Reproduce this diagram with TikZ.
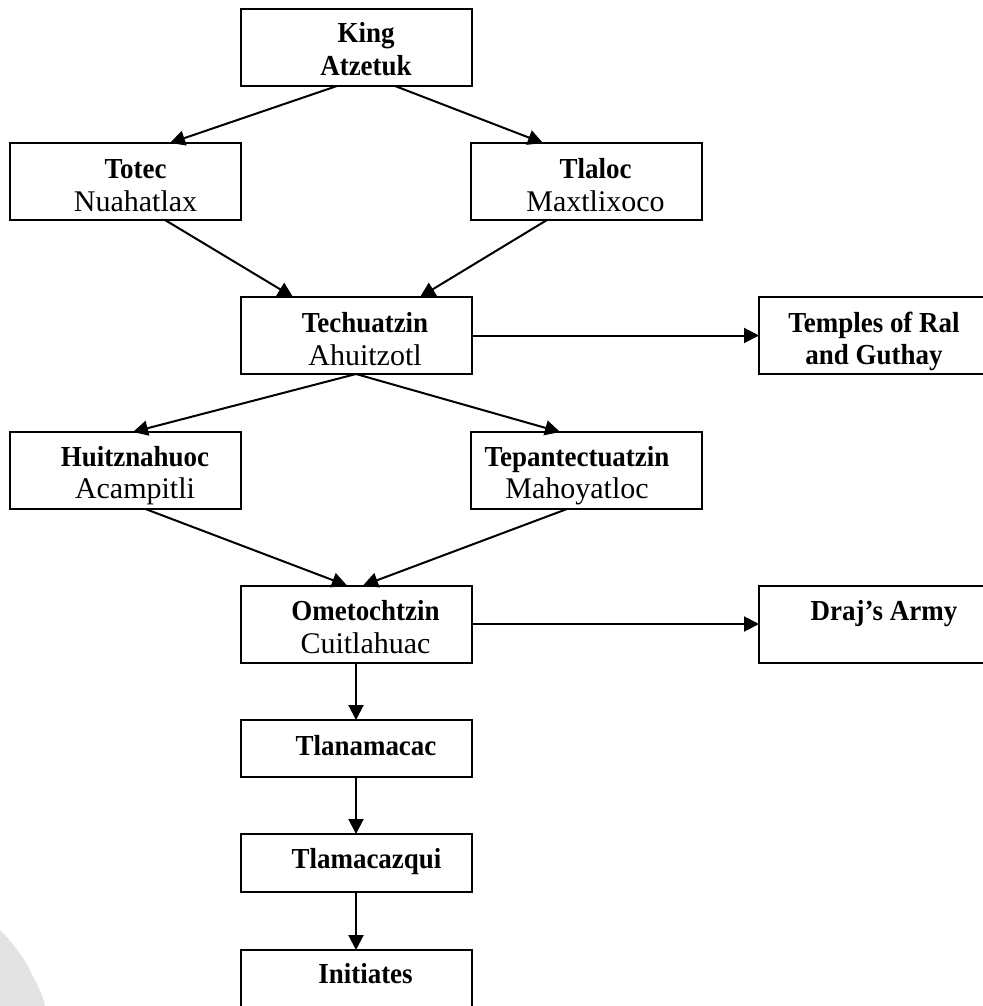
\documentclass[tikz,border=0pt]{standalone}
\usepackage{fontspec}
\setmainfont{Liberation Serif}
\newfontfamily\boldfam{Liberation Serif}[FakeStretch=0.93]
\usetikzlibrary{arrows.meta}
\begin{document}
\begin{tikzpicture}[x=1pt,y=-1pt,
  box/.style={draw, line width=2pt, minimum width=231pt, inner sep=0pt, outer sep=0pt},
  tallbox/.style={box, minimum height=77pt},
  lowbox/.style={box, minimum height=57pt},
  bt/.style={anchor=base, inner sep=0pt, font=\fontsize{29}{31}\boldfam\bfseries},
  rt/.style={anchor=base, inner sep=0pt, font=\fontsize{30}{33}\selectfont},
  conn/.style={line width=2pt, -{Triangle[length=15pt,width=15pt]}}]
\useasboundingbox (0,0) rectangle (982,1006);
\fill[black!11] (0,930) .. controls (15,945) and (25,960) .. (30,970) .. controls (34,980) and (42,990) .. (45,1006) -- (0,1006) -- cycle;

% boxes
\node[tallbox] (king) at (356,47.5) {};
\node[tallbox] (totec) at (125.5,181.5) {};
\node[tallbox] (tlaloc) at (586.5,181.5) {};
\node[tallbox] (tech) at (356,335.5) {};
\node[tallbox] (temples) at (874.5,335.5) {};
\node[tallbox] (huitz) at (125.5,470.5) {};
\node[tallbox] (tepan) at (586.5,470.5) {};
\node[tallbox] (omet) at (356,624) {};
\node[tallbox] (draj) at (874.5,624) {};
\node[lowbox] (tlan) at (356,748.5) {};
\node[lowbox, minimum height=58pt] (tlam) at (356,863) {};
\node[lowbox, minimum height=58pt] (init) at (356,979) {};

% texts
\node[bt] (kingA) at (366,43) {King};
\node[bt] (kingB) at (366,76) {Atzetuk};
\node[bt] (totecA) at (135.5,178) {Totec};
\node[rt] (totecB) at (135.5,211) {Nuahatlax};
\node[bt] (tlalocA) at (595.5,178) {Tlaloc};
\node[rt] (tlalocB) at (595.5,211) {Maxtlixoco};
\node[bt] (techA) at (365,332) {Techuatzin};
\node[rt] (techB) at (365,365) {Ahuitzotl};
\node[bt] (templesA) at (874,332) {Temples of Ral};
\node[bt] (templesB) at (874,364) {and Guthay};
\node[bt] (huitzA) at (135,466) {Huitznahuoc};
\node[rt] (huitzB) at (135,498) {Acampitli};
\node[bt] (tepanA) at (577,466) {Tepantectuatzin};
\node[rt] (tepanB) at (577,498) {Mahoyatloc};
\node[bt] (ometA) at (365.5,620) {Ometochtzin};
\node[rt] (ometB) at (365.5,653) {Cuitlahuac};
\node[bt] (drajA) at (884,620) {Draj’s Army};
\node[bt] (tlanA) at (366,755) {Tlanamacac};
\node[bt] (tlamA) at (366.5,868) {Tlamacazqui};
\node[bt] (initA) at (365.5,983) {Initiates};

% connectors
\draw[conn] ([xshift=-19pt]king.south) -- ([xshift=44.5pt]totec.north);
\draw[conn] ([xshift=39pt]king.south) -- ([xshift=-43.5pt]tlaloc.north);
\draw[conn] ([xshift=39.5pt]totec.south) -- ([xshift=-63pt]tech.north);
\draw[conn] ([xshift=-39.5pt]tlaloc.south) -- ([xshift=64pt]tech.north);
\draw[conn] (tech.east) -- (temples.west);
\draw[conn] (tech.south) -- ([xshift=7.5pt]huitz.north);
\draw[conn] (tech.south) -- ([xshift=-26.5pt]tepan.north);
\draw[conn] ([xshift=20pt]huitz.south) -- ([xshift=-9pt]omet.north);
\draw[conn] ([xshift=-19.5pt]tepan.south) -- ([xshift=7pt]omet.north);
\draw[conn] (omet.east) -- (draj.west);
\draw[conn] (omet.south) -- (tlan.north);
\draw[conn] (tlan.south) -- (tlam.north);
\draw[conn] (tlam.south) -- (init.north);
\end{tikzpicture}
\end{document}
